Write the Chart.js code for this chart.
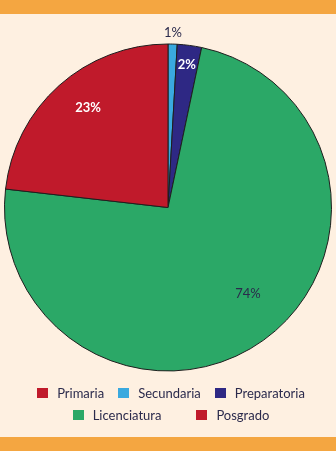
<!DOCTYPE html>
<html>
<head>
<meta charset="utf-8">
<script src="https://cdn.jsdelivr.net/npm/chart.js@4.4.1/dist/chart.umd.min.js"></script>
<style>
  html, body { margin: 0; padding: 0; }
  body { width: 336px; height: 451px; background: #fef0e1; position: relative; overflow: hidden; font-family: Lato, "Open Sans", sans-serif; }
  .bar { position: absolute; left: 0; width: 336px; background: #f4a641; }
  #top { top: 0; height: 14px; }
  #bottom { top: 437px; height: 14px; }
  #wrap { position: absolute; left: 0; top: 0; width: 336px; height: 451px; }
  #legend { position: absolute; left: 0; top: 382px; width: 336px; color: #2b2a4c; font-size: 13px; }
  .row { display: flex; justify-content: center; height: 22px; align-items: center; padding-left: 6px; }
  .item { display: flex; align-items: center; }
  .box { width: 11px; height: 10px; margin-right: 9px; }
</style>
</head>
<body>
<div class="bar" id="top"></div>
<div class="bar" id="bottom"></div>
<div id="wrap"><canvas id="c"></canvas></div>
<div id="legend"></div>
<script>
const categories = ["Primaria", "Secundaria", "Preparatoria", "Licenciatura", "Posgrado"];
const values = [0, 0.9, 2.4, 73.5, 23.2];
const colors = ["#c01a2b", "#3aa9df", "#2e2884", "#2ba867", "#c01a2b"];

// label placement/style per slice (radius ratio, angle shift in degrees, colour, weight)
const labelStyle = [
  null,
  { r: 1.07, da: 0, color: "#2b2a4c", weight: "normal" },
  { r: 0.88, da: 0, color: "#ffffff", weight: "bold" },
  { r: 0.72, da: -7, color: "#2b2a4c", weight: "normal" },
  { r: 0.78, da: 3, color: "#ffffff", weight: "bold" }
];

const pctLabels = {
  id: "pctLabels",
  afterDatasetsDraw(chart) {
    const ctx = chart.ctx;
    const meta = chart.getDatasetMeta(0);
    const data = chart.data.datasets[0].data;
    meta.data.forEach((arc, i) => {
      const st = labelStyle[i];
      if (!st || data[i] <= 0) return;
      const p = arc.getProps(["x", "y", "startAngle", "endAngle", "outerRadius"], true);
      const mid = (p.startAngle + p.endAngle) / 2 + st.da * Math.PI / 180;
      const rr = p.outerRadius * st.r;
      const x = p.x + Math.cos(mid) * rr;
      const y = p.y + Math.sin(mid) * rr;
      ctx.save();
      ctx.font = st.weight + " 13px Lato, 'Open Sans', sans-serif";
      ctx.fillStyle = st.color;
      ctx.textAlign = "center";
      ctx.textBaseline = "middle";
      ctx.fillText(Math.round(data[i]) + "%", x, y);
      ctx.restore();
    });
  }
};

const chart = new Chart(document.getElementById("c"), {
  type: "pie",
  data: {
    labels: categories,
    datasets: [{
      data: values,
      backgroundColor: colors,
      borderColor: "#1e1e1e",
      borderWidth: 1
    }]
  },
  options: {
    responsive: true,
    maintainAspectRatio: false,
    animation: false,
    layout: { padding: { left: 4, right: 4, top: 43, bottom: 79 } },
    plugins: { legend: { display: false }, tooltip: { enabled: false } }
  },
  plugins: [pctLabels]
});

// HTML legend built from the chart's data
const rows = [[0, 1, 2], [3, 4]];
const gaps = [14, 35];
const legend = document.getElementById("legend");
rows.forEach((row, ri) => {
  const r = document.createElement("div");
  r.className = "row";
  r.style.gap = gaps[ri] + "px";
  row.forEach(i => {
    const it = document.createElement("div");
    it.className = "item";
    const b = document.createElement("span");
    b.className = "box";
    b.style.background = chart.data.datasets[0].backgroundColor[i];
    const t = document.createElement("span");
    t.textContent = chart.data.labels[i];
    it.appendChild(b); it.appendChild(t);
    r.appendChild(it);
  });
  legend.appendChild(r);
});
</script>
</body>
</html>
